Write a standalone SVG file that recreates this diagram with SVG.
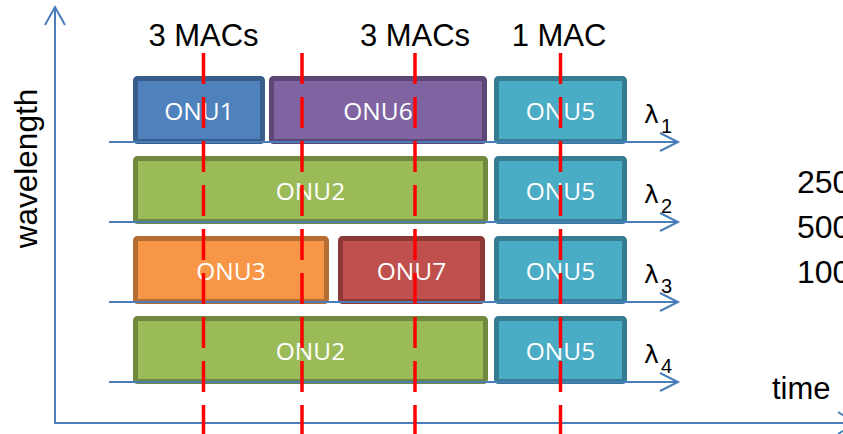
<svg xmlns="http://www.w3.org/2000/svg" width="843" height="434" viewBox="0 0 843 434">
<style>
.ax{stroke:#4A7EBB;stroke-width:2;fill:none}
.box{stroke-width:5}
.onu{font-family:"Open Sans","Liberation Sans",sans-serif;font-size:24.5px;fill:#fff;text-anchor:middle}
.lbl{font-family:"Liberation Sans",Arial,sans-serif;fill:#000}
.lam{font-family:"DejaVu Sans",sans-serif;font-size:25px}
.sub{font-family:"Liberation Sans",Arial,sans-serif;font-size:20px}
.red{stroke:#FF0000;stroke-width:3.5;stroke-dasharray:31 13;fill:none}
.blue{fill:#4F81BD;stroke:#385D8A}
.purple{fill:#8064A2;stroke:#5C4776}
.cyan{fill:#4BACC6;stroke:#357D91}
.green{fill:#9BBB59;stroke:#71893F}
.orange{fill:#F79646;stroke:#B66D31}
.redbox{fill:#C0504D;stroke:#8C3836}
</style>
<rect width="843" height="434" fill="#fff"/>
<g id="onu1"><rect class="box blue" x="135.5" y="78.5" width="127" height="63" rx="2"/><text class="onu" x="199" y="120">ONU1</text></g>
<g id="onu6"><rect class="box purple" x="271.5" y="78.5" width="213" height="63" rx="2"/><text class="onu" x="378" y="120">ONU6</text></g>
<g id="onu5a"><rect class="box cyan" x="496.5" y="78.5" width="128" height="63" rx="2"/><text class="onu" x="560.5" y="120">ONU5</text></g>
<g id="onu2a"><rect class="box green" x="135.5" y="158.5" width="350" height="63" rx="2"/><text class="onu" x="310.5" y="200">ONU2</text></g>
<g id="onu5b"><rect class="box cyan" x="496.5" y="158.5" width="128" height="63" rx="2"/><text class="onu" x="560.5" y="200">ONU5</text></g>
<g id="onu3"><rect class="box orange" x="135.5" y="238.5" width="191" height="63" rx="2"/><text class="onu" x="231" y="280">ONU3</text></g>
<g id="onu7"><rect class="box redbox" x="340.5" y="238.5" width="142" height="63" rx="2"/><text class="onu" x="411.5" y="280">ONU7</text></g>
<g id="onu5c"><rect class="box cyan" x="496.5" y="238.5" width="128" height="63" rx="2"/><text class="onu" x="560.5" y="280">ONU5</text></g>
<g id="onu2b"><rect class="box green" x="135.5" y="318.5" width="350" height="63" rx="2"/><text class="onu" x="310.5" y="360">ONU2</text></g>
<g id="onu5d"><rect class="box cyan" x="496.5" y="318.5" width="128" height="63" rx="2"/><text class="onu" x="560.5" y="360">ONU5</text></g>
<g id="connectors">
<path class="ax" d="M55,8 V423 H856 M45,25 L55,7 L65,25 M838,412 L856,423 L838,434"/>
<path class="ax" d="M109,142 H677 M660,133 L678,142 L660,151"/>
<path class="ax" d="M109,222 H677 M660,213 L678,222 L660,231"/>
<path class="ax" d="M109,302 H677 M660,293 L678,302 L660,311"/>
<path class="ax" d="M109,382 H677 M660,373 L678,382 L660,391"/>
<path class="red" d="M203.5,53 V434 M302,53 V434 M415,53 V434 M560.5,53 V434"/>
</g>
<g id="labels" class="lbl">
<text x="203.5" y="46" font-size="31" text-anchor="middle">3 MACs</text>
<text x="415" y="46" font-size="31" text-anchor="middle">3 MACs</text>
<text x="559" y="46" font-size="31" text-anchor="middle">1 MAC</text>
<text x="37" y="168.5" font-size="31.5" text-anchor="middle" transform="rotate(-90 37 168.5)">wavelength</text>
<text x="772" y="399" font-size="31">time</text>
<text x="797" y="193" font-size="32">250</text>
<text x="797" y="238" font-size="32">500</text>
<text x="797" y="283" font-size="32">100</text>
<text class="lam" x="644" y="123">λ</text><text class="sub" x="661" y="133">1</text>
<text class="lam" x="644" y="203">λ</text><text class="sub" x="661" y="213">2</text>
<text class="lam" x="644" y="283">λ</text><text class="sub" x="661" y="293">3</text>
<text class="lam" x="644" y="363">λ</text><text class="sub" x="661" y="373">4</text>
</g>
</svg>
